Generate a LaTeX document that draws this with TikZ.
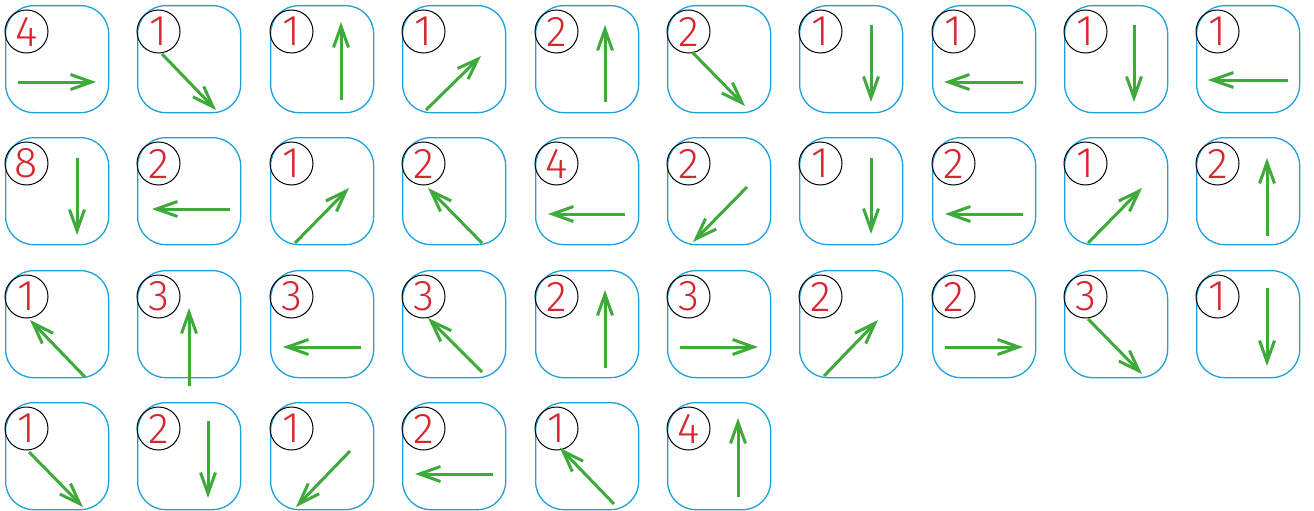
\documentclass[tikz,border=0pt]{standalone}
\usepackage{fontspec}
\newfontfamily\numfont{Fira Sans}[UprightFont={* Light}]
\usetikzlibrary{arrows.meta}
\definecolor{tileblue}{HTML}{1BA1DB}
\definecolor{numred}{HTML}{D7262F}
\definecolor{arrgreen}{HTML}{3DAA3A}
\tikzset{
  tilebox/.style={draw=tileblue, line width=1.3pt, rounded corners=28pt,
    minimum width=103pt, minimum height=107pt, inner sep=0pt, anchor=north west},
  numcircle/.style={draw=black, line width=1pt, circle, minimum size=43pt,
    inner sep=0pt, text=numred, font=\numfont\fontsize{43}{43}\selectfont},
  movearrow/.style={draw=arrgreen, line width=3pt,
    -{Straight Barb[length=21pt,width=15pt]}},
}
\newcommand\mytile[8]{%
  \begin{scope}[shift={(#2,#3)}]
    \node[tilebox] (#1) at (0,0) {};
    \node[numcircle] (#1n) at (21.5,26.5) {#4};
    \coordinate (#1s) at (#5,#6);
    \coordinate (#1e) at (#7,#8);
    \draw[movearrow] (#1s) -- (#1e);
  \end{scope}}
\begin{document}
\begin{tikzpicture}[x=1pt,y=-1pt]
\useasboundingbox (0,0) rectangle (1314,511);
% row 1
\mytile{a1}{5}{5}{4}{13}{77}{91}{77}
\mytile{a2}{137}{5}{1}{25}{49}{79}{105}
\mytile{a3}{270}{5}{1}{71}{95}{71}{17}
\mytile{a4}{402}{5}{1}{24}{105}{79}{51}
\mytile{a5}{535}{5}{2}{70}{97}{70}{20}
\mytile{a6}{667}{5}{2}{25}{47}{78}{101}
\mytile{a7}{799}{5}{1}{72}{20}{72}{97}
\mytile{a8}{932}{5}{1}{91}{77}{12}{77}
\mytile{a9}{1064}{5}{1}{70}{20}{70}{97}
\mytile{a10}{1196}{5}{1}{92}{75}{12}{75}
% row 2
\mytile{b1}{5}{137}{8}{72}{21}{72}{98}
\mytile{b2}{137}{137}{2}{93}{72}{15}{72}
\mytile{b3}{270}{137}{1}{25}{106}{79}{51}
\mytile{b4}{402}{137}{2}{80}{106}{26}{51}
\mytile{b5}{535}{137}{4}{90}{77}{13}{77}
\mytile{b6}{667}{137}{2}{80}{50}{26}{105}
\mytile{b7}{799}{137}{1}{72}{21}{72}{97}
\mytile{b8}{932}{137}{2}{91}{77}{13}{77}
\mytile{b9}{1064}{137}{1}{24}{106}{78}{51}
\mytile{b10}{1196}{137}{2}{71}{99}{71}{21}
% row 3
\mytile{c1}{5}{270}{1}{80}{107}{25}{50}
\mytile{c2}{137}{270}{3}{52}{116}{52}{38}
\mytile{c3}{270}{270}{3}{91}{77}{13}{77}
\mytile{c4}{402}{270}{3}{80}{102}{26}{48}
\mytile{c5}{535}{270}{2}{70}{98}{70}{20}
\mytile{c6}{667}{270}{3}{13}{77}{91}{77}
\mytile{c7}{799}{270}{2}{25}{106}{79}{50}
\mytile{c8}{932}{270}{2}{13}{77}{91}{77}
\mytile{c9}{1064}{270}{3}{24}{49}{78}{104}
\mytile{c10}{1196}{270}{1}{71}{18}{71}{96}
% row 4
\mytile{d1}{5}{402}{1}{24}{50}{78}{105}
\mytile{d2}{137}{402}{2}{71}{19}{71}{96}
\mytile{d3}{270}{402}{1}{80}{49}{26}{105}
\mytile{d4}{402}{402}{2}{91}{72}{13}{72}
\mytile{d5}{535}{402}{1}{79}{102}{25}{46}
\mytile{d6}{667}{402}{4}{71}{95}{71}{16}
\end{tikzpicture}
\end{document}
